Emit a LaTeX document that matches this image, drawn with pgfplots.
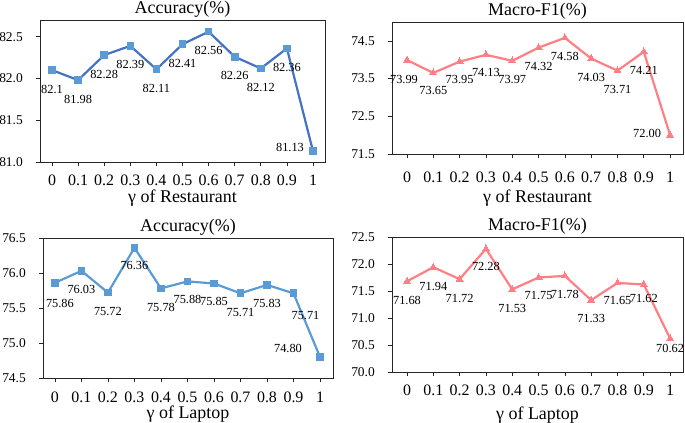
\documentclass[border=0pt]{standalone}
\usepackage{fontspec}
\setmainfont{Liberation Serif}
\usepackage{pgfplots}
\usepackage{pgfplotstable}
\pgfplotsset{compat=1.18}
\definecolor{blueA}{HTML}{4472C4}
\definecolor{blueM}{HTML}{5B9BD5}
\definecolor{pinkA}{HTML}{FF7F84}

\pgfplotstableread{
x y lab dx dy
0 82.1 82.1 0 -19
0.1 81.98 81.98 0 -19
0.2 82.28 82.28 0 -19
0.3 82.39 82.39 0 -19
0.4 82.11 82.11 0 -19
0.5 82.41 82.41 0 -19
0.6 82.56 82.56 0 -19
0.7 82.26 82.26 0 -19
0.8 82.12 82.12 0 -19
0.9 82.36 82.36 0 -19
1 81.13 81.13 -23 4
}\resacc
\pgfplotstableread{
x y lab dx dy
0 73.99 73.99 -3 -19
0.1 73.65 73.65 0 -18
0.2 73.95 73.95 0 -18
0.3 74.13 74.13 0 -18
0.4 73.97 73.97 0 -19
0.5 74.32 74.32 0 -19
0.6 74.58 74.58 0 -19
0.7 74.03 74.03 0 -19
0.8 73.71 73.71 0 -19
0.9 74.21 74.21 0 -19
1 72.00 72.00 -23 2
}\resf
\pgfplotstableread{
x y lab dx dy
0 75.86 75.86 5 -21
0.1 76.03 76.03 0 -19
0.2 75.72 75.72 0 -19
0.3 76.36 76.36 0 -18
0.4 75.78 75.78 0 -19
0.5 75.88 75.88 0 -18
0.6 75.85 75.85 0 -18
0.7 75.71 75.71 0 -19
0.8 75.83 75.83 0 -19
0.9 75.71 75.71 12 -22
1 74.80 74.80 -32 9
}\lapacc
\pgfplotstableread{
x y lab dx dy
0 71.68 71.68 0 -19
0.1 71.94 71.94 0 -19
0.2 71.72 71.72 0 -19
0.3 72.28 72.28 0 -18
0.4 71.53 71.53 0 -19
0.5 71.75 71.75 0 -18
0.6 71.78 71.78 0 -19
0.7 71.33 71.33 0 -18
0.8 71.65 71.65 0 -18
0.9 71.62 71.62 0 -14
1 70.62 70.62 0 -10
}\lapf

\pgfplotsset{
  every axis title/.style={at={(axis description cs:0.5,1)}, anchor=base, inner sep=0pt, font=\fontsize{18}{20}\selectfont, yshift=6bp},
  every axis x label/.style={at={(axis description cs:0.5,0)}, anchor=north, inner sep=0pt, font=\fontsize{18}{20}\selectfont},
  panel/.style={
    scale only axis, anchor=south west, clip=false,
    axis line style={black!85, line width=0.8pt},
    tick align=outside, xtick pos=left, ytick pos=left,
    tick style={black!85, line width=0.7pt}, major tick length=4bp,
    xtick={0,0.1,0.2,0.3,0.4,0.5,0.6,0.7,0.8,0.9,1},
    xticklabels={0,0.1,0.2,0.3,0.4,0.5,0.6,0.7,0.8,0.9,1},
    /pgf/number format/assume math mode=true,
    yticklabel style={font=\fontsize{13.5}{14}\selectfont, /pgf/number format/fixed, /pgf/number format/fixed zerofill, /pgf/number format/precision=1, inner sep=0pt, xshift=-13bp},
    xticklabel style={font=\fontsize{16}{17}\selectfont, inner sep=0pt},
  },
  lab/.style={
    nodes near coords, point meta=explicit symbolic,
    visualization depends on={\thisrow{dx} \as \labdx},
    visualization depends on={\thisrow{dy} \as \labdy},
    every node near coord/.append style={font=\fontsize{12.4}{13}\selectfont, text=black, anchor=center, xshift=\labdx bp, yshift=\labdy bp, inner sep=0pt},
  },
}

\begin{document}
\begin{tikzpicture}
\path[use as bounding box] (0,0) rectangle (685bp,423bp);
% top-left
\begin{axis}[panel, at={(40bp,261bp)}, width=285bp, height=142bp,
  xmin=-0.046, xmax=1.046, ymin=81.0, ymax=82.7, ytick={81.0,81.5,82.0,82.5},
  xticklabel style={yshift=-9bp}, xlabel style={yshift=-28bp},
  title={Accuracy(\%)}, xlabel={γ of Restaurant}]
\addplot[blueA, line width=2.2pt, mark=square*, mark size=3.3bp, mark options={blueM, draw=blueM, line width=0pt}, lab]
  table[x=x, y=y, meta=lab] {\resacc};
\end{axis}
% top-right
\begin{axis}[panel, at={(392bp,269bp)}, width=291bp, height=132bp,
  xmin=-0.057, xmax=1.049, ymin=71.5, ymax=75.0, ytick={71.5,72.5,73.5,74.5},
  xticklabel style={yshift=-14bp}, xlabel style={yshift=-36bp},
  title={Macro-F1(\%)}, xlabel={γ of Restaurant}]
\addplot[pinkA, line width=2.2pt, mark=triangle*, mark size=4bp, mark options={pinkA, line width=0pt}, lab]
  table[x=x, y=y, meta=lab] {\resf};
\end{axis}
% bottom-left
\begin{axis}[panel, at={(43bp,45bp)}, width=290bp, height=140bp,
  xmin=-0.045, xmax=1.049, ymin=74.5, ymax=76.5, ytick={74.5,75.0,75.5,76.0,76.5},
  xticklabel style={yshift=-10bp}, xlabel style={yshift=-28bp},
  title={Accuracy(\%)}, xlabel={γ of Laptop}]
\addplot[blueM, line width=2.2pt, mark=square*, mark size=3.3bp, mark options={blueM, line width=0pt}, lab]
  table[x=x, y=y, meta=lab] {\lapacc};
\end{axis}
% bottom-right
\begin{axis}[panel, at={(392bp,51bp)}, width=291bp, height=135bp,
  xmin=-0.057, xmax=1.049, ymin=70.0, ymax=72.5, ytick={70.0,70.5,71.0,71.5,72.0,72.5},
  xticklabel style={yshift=-9bp}, xlabel style={yshift=-35bp},
  title={Macro-F1(\%)}, xlabel={γ of Laptop}]
\addplot[pinkA, line width=2.2pt, mark=triangle*, mark size=4bp, mark options={pinkA, line width=0pt}, lab]
  table[x=x, y=y, meta=lab] {\lapf};
\end{axis}
\end{tikzpicture}
\end{document}
